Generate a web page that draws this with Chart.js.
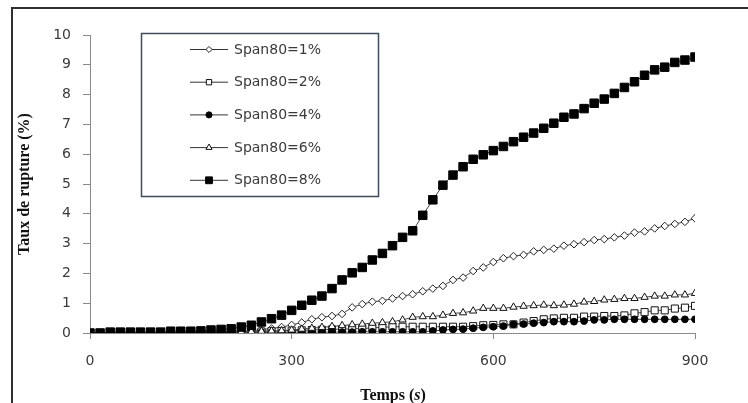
<!DOCTYPE html>
<html>
<head>
<meta charset="utf-8">
<title>Taux de rupture</title>
<script src="https://cdn.jsdelivr.net/npm/chart.js@4/dist/chart.umd.min.js"></script>
<style>
  html, body { margin: 0; padding: 0; background: #ffffff; }
  #wrap { width: 748px; height: 403px; }
</style>
</head>
<body>
<div id="wrap"><canvas id="c" width="748" height="403"></canvas></div>
<script>
// Sampling times (s), one reading every 15 s
const temps = [0,15,30,45,60,75,90,105,120,135,150,165,180,195,210,225,240,255,270,285,
  300,315,330,345,360,375,390,405,420,435,450,465,480,495,510,525,540,555,570,585,
  600,615,630,645,660,675,690,705,720,735,750,765,780,795,810,825,840,855,870,885,900];

// Taux de rupture (%) for each Span80 concentration
const span1 = [0,0,0,0.01,0.01,0.01,0.02,0.02,0.02,0.03,0.03,0.03,0.04,0.04,0.05,0.06,0.08,0.11,0.15,0.2,
  0.27,0.35,0.46,0.53,0.57,0.64,0.86,0.97,1.05,1.08,1.16,1.24,1.3,1.4,1.49,1.58,1.78,1.86,2.08,2.2,
  2.38,2.51,2.58,2.62,2.74,2.79,2.83,2.93,2.98,3.05,3.12,3.15,3.21,3.27,3.37,3.41,3.51,3.59,3.66,3.73,3.85];
const span2 = [0,0,0,0,0.01,0.01,0.01,0.01,0.02,0.02,0.02,0.03,0.03,0.03,0.04,0.04,0.05,0.05,0.06,0.07,
  0.08,0.09,0.1,0.11,0.12,0.13,0.14,0.15,0.17,0.19,0.21,0.21,0.21,0.21,0.21,0.21,0.21,0.21,0.23,0.26,
  0.27,0.29,0.29,0.35,0.4,0.46,0.49,0.51,0.51,0.55,0.55,0.57,0.57,0.59,0.66,0.7,0.76,0.76,0.82,0.85,0.91];
const span4 = [0,0,0,0,0,0,0,0,0.01,0.01,0.01,0.01,0.01,0.01,0.02,0.02,0.02,0.02,0.02,0.02,
  0.03,0.03,0.03,0.03,0.03,0.03,0.03,0.04,0.04,0.04,0.04,0.04,0.04,0.04,0.07,0.1,0.12,0.13,0.16,0.19,
  0.21,0.23,0.29,0.3,0.33,0.35,0.38,0.38,0.38,0.4,0.44,0.44,0.46,0.46,0.46,0.46,0.46,0.46,0.46,0.46,0.46];
const span6 = [0,0,0,0,0.01,0.01,0.01,0.01,0.02,0.02,0.02,0.03,0.03,0.03,0.04,0.04,0.05,0.06,0.07,0.08,
  0.1,0.13,0.16,0.19,0.22,0.25,0.28,0.3,0.33,0.35,0.38,0.44,0.53,0.55,0.55,0.6,0.66,0.68,0.74,0.83,
  0.83,0.83,0.87,0.9,0.92,0.94,0.92,0.94,0.97,1.04,1.06,1.11,1.13,1.16,1.16,1.2,1.24,1.24,1.28,1.28,1.33];
const span8 = [0,0,0.03,0.03,0.03,0.03,0.03,0.03,0.06,0.06,0.06,0.07,0.1,0.12,0.14,0.2,0.26,0.37,0.48,0.6,
  0.76,0.93,1.1,1.24,1.49,1.78,2.02,2.2,2.45,2.67,2.93,3.21,3.43,3.95,4.47,4.96,5.3,5.58,5.83,5.98,
  6.12,6.26,6.42,6.57,6.71,6.87,7.04,7.24,7.35,7.53,7.71,7.85,8.04,8.24,8.43,8.65,8.83,8.92,9.08,9.16,9.26];

const seriesLabels = ['Span80=1%', 'Span80=2%', 'Span80=4%', 'Span80=6%', 'Span80=8%'];
const xTicks = [0, 300, 600, 900];
const yTicks = [0,1,2,3,4,5,6,7,8,9,10];

const pairs = vals => vals.map((v, i) => ({ x: temps[i], y: v }));

const markerStyles = [
  { pointStyle: 'rectRot',  pointRadius: 3.8, pointBackgroundColor: '#ffffff', pointBorderColor: '#222' },
  { pointStyle: 'rect',     pointRadius: 5.0, pointBackgroundColor: '#ffffff', pointBorderColor: '#111' },
  { pointStyle: 'circle',   pointRadius: 3.4, pointBackgroundColor: '#000000', pointBorderColor: '#000' },
  { pointStyle: 'triangle', pointRadius: 4.2, pointBackgroundColor: '#ffffff', pointBorderColor: '#111' },
  { pointStyle: 'rect',     pointRadius: 6.0, pointBackgroundColor: '#000000', pointBorderColor: '#000' }
];
const seriesValues = [span1, span2, span4, span6, span8];

const datasets = seriesValues.map((vals, i) => Object.assign({
  label: seriesLabels[i],
  data: pairs(vals),
  borderColor: '#444',
  borderWidth: 1,
  pointBorderWidth: 1,
  fill: false,
  tension: 0,
  order: 4 - i
}, markerStyles[i]));

// Frame, legend box and x-axis title
const decor = {
  id: 'decor',
  afterDraw(chart) {
    const ctx = chart.ctx;
    ctx.save();
    // outer frame
    ctx.strokeStyle = '#2f2f2f';
    ctx.lineWidth = 2;
    ctx.strokeRect(12, 8, 800, 500);

    // legend
    const bx = 141.5, by = 33.5, bw = 237, bh = 163;
    ctx.fillStyle = '#ffffff';
    ctx.fillRect(bx, by, bw, bh);
    ctx.strokeStyle = '#3e4c5e';
    ctx.lineWidth = 1.5;
    ctx.strokeRect(bx, by, bw, bh);
    const legendScale = [0.8, 0.75, 0.9, 0.85, 0.8];
    chart.data.datasets.forEach((ds, i) => {
      const y = 49.5 + i * 32.7;
      ctx.strokeStyle = '#333';
      ctx.lineWidth = 1;
      ctx.beginPath();
      ctx.moveTo(190, y);
      ctx.lineTo(228, y);
      ctx.stroke();
      ctx.fillStyle = ds.pointBackgroundColor;
      ctx.strokeStyle = ds.pointBorderColor;
      ctx.lineWidth = 1;
      Chart.helpers.drawPoint(ctx, {
        pointStyle: ds.pointStyle,
        radius: ds.pointRadius * legendScale[i],
        borderWidth: 1,
        rotation: 0
      }, 209, y);
      ctx.fillStyle = '#3a3a3a';
      ctx.font = '14px "DejaVu Sans"';
      ctx.textAlign = 'left';
      ctx.textBaseline = 'middle';
      ctx.fillText(ds.label, 234, y + 0.5);
    });

    // x-axis title: "Temps (s)" with the unit in italic
    const parts = [
      { t: 'Temps (', f: 'bold 16px "Liberation Serif"' },
      { t: 's', f: 'italic bold 16px "Liberation Serif"' },
      { t: ')', f: 'bold 16px "Liberation Serif"' }
    ];
    let total = 0;
    parts.forEach(p => { ctx.font = p.f; p.w = ctx.measureText(p.t).width; total += p.w; });
    let x = 393 - total / 2;
    ctx.fillStyle = '#111';
    ctx.textAlign = 'left';
    ctx.textBaseline = 'middle';
    parts.forEach(p => { ctx.font = p.f; ctx.fillText(p.t, x, 396); x += p.w; });
    ctx.restore();
  }
};

new Chart(document.getElementById('c'), {
  type: 'line',
  data: { datasets },
  options: {
    responsive: false,
    animation: false,
    devicePixelRatio: 1,
    layout: { padding: { left: 0, right: 53, top: 35, bottom: 0 } },
    plugins: { legend: { display: false }, tooltip: { enabled: false } },
    scales: {
      x: {
        type: 'linear',
        min: 0, max: 900,
        afterBuildTicks: s => { s.ticks = xTicks.map(v => ({ value: v })); },
        afterFit: s => { s.height = 70; },
        grid: { drawOnChartArea: false, tickLength: 6, color: '#8a8a8a' },
        border: { color: '#8a8a8a', width: 1 },
        ticks: { color: '#3a3a3a', font: { family: 'DejaVu Sans', size: 14 }, padding: 14, maxRotation: 0 }
      },
      y: {
        min: 0, max: 10,
        afterBuildTicks: s => { s.ticks = yTicks.map(v => ({ value: v })); },
        afterFit: s => { s.width = 90; },
        grid: { drawOnChartArea: false, tickLength: 7, color: '#8a8a8a' },
        border: { color: '#8a8a8a', width: 1 },
        ticks: { color: '#3a3a3a', font: { family: 'DejaVu Sans', size: 14 }, padding: 12 },
        title: {
          display: true,
          text: 'Taux de rupture (%)',
          color: '#111',
          font: { family: 'Liberation Serif', size: 16, weight: 'bold' },
          padding: { top: 15, bottom: 0 }
        }
      }
    }
  },
  plugins: [decor]
});
</script>
</body>
</html>
